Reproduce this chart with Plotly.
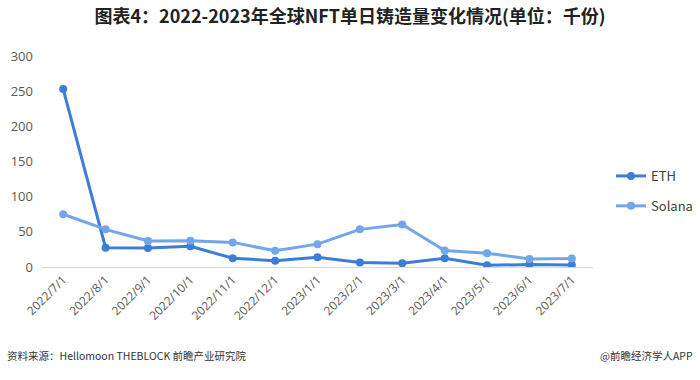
import plotly.graph_objects as go

dates = ["2022/7/1", "2022/8/1", "2022/9/1", "2022/10/1", "2022/11/1", "2022/12/1",
         "2023/1/1", "2023/2/1", "2023/3/1", "2023/4/1", "2023/5/1", "2023/6/1", "2023/7/1"]
eth = [253, 27.5, 27, 29.5, 12.5, 9, 14, 6.5, 5.5, 12.5, 2.5, 3.5, 3]
solana = [75, 53.5, 37, 37.5, 35, 23, 32.5, 53.5, 60.5, 23.5, 19.5, 11.5, 12]
yticks = [0, 50, 100, 150, 200, 250, 300]

ETH_C = "#3C7DD8"
SOL_C = "#72A6EA"

fig = go.Figure()
fig.add_trace(go.Scatter(x=dates, y=eth, name="ETH", mode="lines+markers", legendgroup="a",
                         line=dict(color=ETH_C, width=3), marker=dict(size=8, color=ETH_C)))
fig.add_trace(go.Scatter(x=dates, y=solana, name="Solana", mode="lines+markers", legendgroup="b",
                         line=dict(color=SOL_C, width=3), marker=dict(size=8, color=SOL_C)))

fig.update_layout(
    width=700, height=380,
    margin=dict(l=42, r=107, t=56, b=113, autoexpand=False),
    paper_bgcolor="white", plot_bgcolor="white",
    font=dict(family="Noto Sans CJK SC, Noto Sans, sans-serif", color="#595959"),
    title=dict(text="<b>图表4：2022-2023年全球NFT单日铸造量变化情况(单位：千份)</b>",
               x=0.5, xanchor="center", y=1 - 17 / 380, yanchor="middle",
               font=dict(size=18, color="#222222", family="Noto Sans CJK SC")),
    showlegend=True,
    legend=dict(xref="container", yref="container", x=611 / 700, y=1 - 191 / 380,
                xanchor="left", yanchor="middle", traceorder="grouped",
                font=dict(size=13, color="#404040"), tracegroupgap=10,
                bgcolor="rgba(0,0,0,0)"),
    xaxis=dict(type="category", range=[-0.5, len(dates) - 0.5], tickangle=-45,
               showgrid=False, showline=True,
               linecolor="#D9D9D9", linewidth=1, ticks="", automargin=False,
               tickfont=dict(size=12, color="#595959", family="Open Sans, Noto Sans")),
    yaxis=dict(range=[0, 300], tickvals=yticks, showgrid=False, zeroline=False,
               showline=False, ticks="", ticklabelstandoff=8, automargin=False,
               tickfont=dict(size=13, color="#595959", family="Open Sans, Noto Sans")),
)

fig.add_annotation(text="资料来源：Hellomoon THEBLOCK 前瞻产业研究院", xref="paper", yref="paper",
                   x=-37 / 551, y=-88 / 211, xanchor="left", yanchor="middle", showarrow=False,
                   font=dict(size=10.5, color="#333333", family="Noto Sans CJK SC"))
fig.add_annotation(text="@前瞻经济学人APP", xref="paper", yref="paper",
                   x=653 / 551, y=-88 / 211, xanchor="right", yanchor="middle", showarrow=False,
                   font=dict(size=10.5, color="#333333", family="Noto Sans CJK SC"))

fig.write_html("out.html", config={"displayModeBar": False},
               post_script="document.body.style.margin='0';")
